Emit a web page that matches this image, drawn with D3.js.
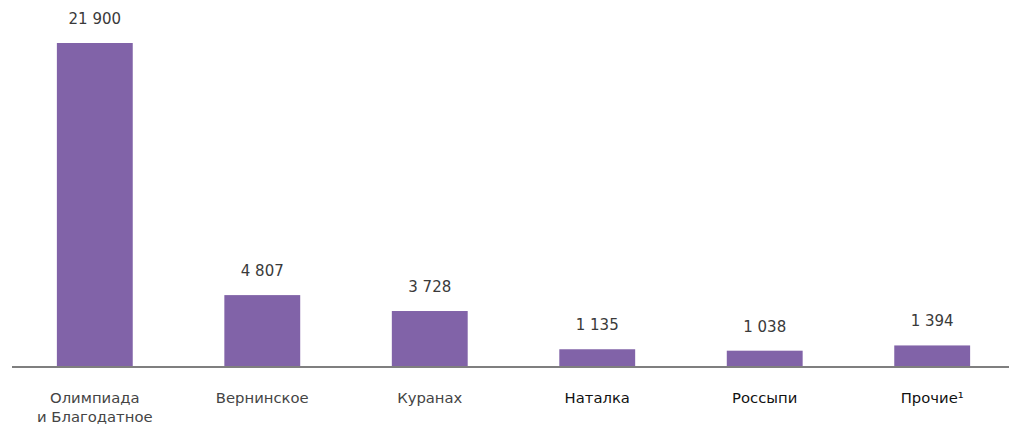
<!DOCTYPE html>
<html><head><meta charset="utf-8">
<script src="https://cdn.jsdelivr.net/npm/d3@7"></script>
<style>body{margin:0;background:#fff}svg{display:block}</style>
</head><body>
<svg id="c" width="1009" height="425"></svg>
<script>
const categories = [["Олимпиада","и Благодатное"],["Вернинское"],["Куранах"],["Наталка"],["Россыпи"],["Прочие¹"]];
const values = [21900, 4807, 3728, 1135, 1038, 1394];
const valueLabels = ["21 900","4 807","3 728","1 135","1 038","1 394"];
const labelColors = ["#444","#444","#444","#111","#111","#111"];

const svg = d3.select("#c");
const font = "'DejaVu Sans', sans-serif";
const x = d3.scaleBand().domain(d3.range(values.length)).range([15, 1012]).paddingInner(0.547).paddingOuter(0.25);
const y = d3.scaleLinear().domain([0, 21900]).range([366, 43]);

svg.selectAll("rect.bar").data(values).join("rect")
  .attr("x", (d,i)=>x(i)).attr("width", x.bandwidth())
  .attr("y", d=>y(d)).attr("height", d=>y(0)-y(d))
  .attr("fill", "#8163a8");

svg.append("line").attr("x1", 12).attr("x2", 1009).attr("y1", y(0)+1).attr("y2", y(0)+1)
  .attr("stroke", "#555").attr("stroke-width", 1.5);

svg.selectAll("text.val").data(values).join("text")
  .attr("x", (d,i)=>x(i)+x.bandwidth()/2).attr("y", d=>y(d)-19)
  .attr("text-anchor","middle").attr("font-family", font).attr("font-size", 15)
  .attr("fill","#3a3a3a").text((d,i)=>valueLabels[i]);

const cat = svg.selectAll("text.cat").data(categories).join("text")
  .attr("text-anchor","middle").attr("font-family", font).attr("font-size", 14.8)
  .attr("fill",(d,i)=>labelColors[i]);
cat.each(function(d,i){
  d3.select(this).selectAll("tspan").data(d).join("tspan")
    .attr("x", x(i)+x.bandwidth()/2).attr("y",(t,j)=>403+j*19).text(t=>t);
});
</script>
</body></html>
